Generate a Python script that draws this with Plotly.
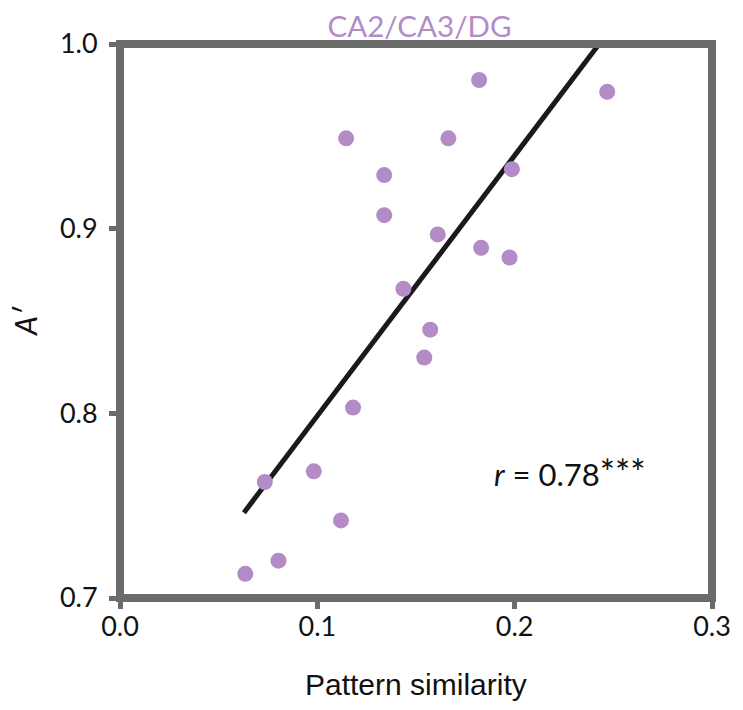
import plotly.graph_objects as go

# Data
pattern_similarity = [0.0635, 0.0803, 0.0734, 0.0982, 0.1120, 0.1181, 0.1542, 0.1572,
                      0.1436, 0.1610, 0.1339, 0.1339, 0.1146, 0.1664, 0.1830, 0.1974,
                      0.1986, 0.1820, 0.2469]
a_prime = [0.7131, 0.7202, 0.7628, 0.7686, 0.7420, 0.8031, 0.8302, 0.8453,
           0.8674, 0.8969, 0.9073, 0.9290, 0.9489, 0.9489, 0.8896, 0.8844,
           0.9322, 0.9805, 0.9741]
fit_x = [0.0628, 0.2428]
fit_y = [0.7462, 1.0]

x_ticks = [0.0, 0.1, 0.2, 0.3]
x_tick_labels = ["0.0", "0.1", "0.2", "0.3"]
y_ticks = [0.7, 0.8, 0.9, 1.0]
y_tick_labels = ["0.7", "0.8", "0.9", "1.0"]

title_text = "CA2/CA3/DG"
x_title = "Pattern similarity"
y_title = "<i>A′</i>"
r_text = "<i>r</i>\u00a0=\u00a00.78<span style='font-size:36px'>***</span>"

PURPLE = "#b38bc6"
GRAY = "#6b6b6b"
TICK_FONT = "Lato"

# page is drawn 8px inside the window (default body margin), so the figure is
# sized to the remaining space
W, H = 735, 694

fig = go.Figure()
fig.add_trace(go.Scatter(x=fit_x, y=fit_y, mode="lines",
                         line=dict(color="#1a1a1a", width=5), showlegend=False,
                         hoverinfo="skip"))
fig.add_trace(go.Scatter(x=pattern_similarity, y=a_prime, mode="markers",
                         marker=dict(color=PURPLE, size=16, line=dict(width=0)),
                         showlegend=False))

fig.add_shape(type="rect", xref="paper", yref="paper", x0=0, x1=1, y0=0, y1=1,
              line=dict(color=GRAY, width=8), layer="above")

fig.add_annotation(x=0.1885, y=0.768, xref="x", yref="y", text=r_text,
                   showarrow=False, xanchor="left", yanchor="middle",
                   font=dict(family=TICK_FONT, size=31, color="#111111"))
fig.add_annotation(x=0.5, y=0, xref="paper", yref="paper", text=x_title,
                   showarrow=False, xanchor="center", yanchor="middle", yshift=-86,
                   font=dict(family="Liberation Sans", size=30, color="#111111"))
fig.add_annotation(x=0, y=0.5, xref="paper", yref="paper", text=y_title,
                   showarrow=False, xanchor="center", yanchor="middle", xshift=-95,
                   textangle=-90,
                   font=dict(family=TICK_FONT, size=30, color="#111111"))

fig.update_layout(
    width=W, height=H,
    margin=dict(l=112, r=26, t=36, b=104),
    paper_bgcolor="white", plot_bgcolor="white",
    title=dict(text=title_text, x=411.5 / W, xanchor="center", y=1 - 19 / H,
               yanchor="middle", font=dict(family=TICK_FONT, size=29.5, color=PURPLE)),
    xaxis=dict(range=[0, 0.3], tickvals=x_ticks, ticktext=x_tick_labels,
               showgrid=False, zeroline=False, showline=False,
               ticks="outside", ticklen=10, tickwidth=5, tickcolor=GRAY,
               ticklabelstandoff=-5,
               tickfont=dict(family=TICK_FONT, size=27, color="#111111")),
    yaxis=dict(range=[0.7, 1.0], tickvals=y_ticks, ticktext=y_tick_labels,
               showgrid=False, zeroline=False, showline=False,
               ticks="outside", ticklen=10, tickwidth=5, tickcolor=GRAY,
               ticklabelstandoff=6,
               tickfont=dict(family=TICK_FONT, size=27, color="#111111")),
)

fig.write_html("out.html")
